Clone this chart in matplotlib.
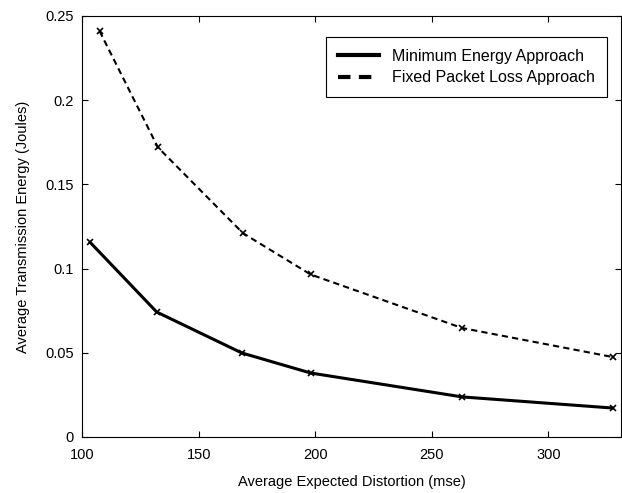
import matplotlib.pyplot as plt

plt.rcParams["font.family"] = ["Liberation Sans", "DejaVu Sans"]

# distortion (mse) vs energy (J)
min_energy_x = [103.5, 132, 168.5, 198, 263, 327.5]
min_energy_y = [0.1155, 0.0742, 0.0499, 0.0380, 0.0238, 0.0172]

fixed_loss_x = [107.5, 132.5, 169, 198, 263, 327.5]
fixed_loss_y = [0.241, 0.172, 0.121, 0.0965, 0.0647, 0.0475]

fig = plt.figure(figsize=(6.22, 4.93), dpi=100)
ax = fig.add_axes([0.132, 0.1136, 0.866, 0.854])

ax.plot(min_energy_x, min_energy_y, "k-", lw=2.2, marker="x", ms=4, mew=1.2,
        label="Minimum Energy Approach")
ax.plot(fixed_loss_x, fixed_loss_y, "k--", lw=1.5, marker="x", ms=4, mew=1.2,
        dashes=(3, 2), label="Fixed Packet Loss Approach")

ax.set_xlim(100, 331)
ax.set_ylim(0, 0.25)
ax.set_xticks([100, 150, 200, 250, 300])
ax.set_yticks([0, 0.05, 0.1, 0.15, 0.2, 0.25])
ax.set_yticklabels(["0", "0.05", "0.1", "0.15", "0.2", "0.25"])
ax.tick_params(direction="in", top=True, right=True, labelsize=10.5, length=4)
ax.tick_params(axis="x", pad=8)
ax.tick_params(axis="y", pad=6)

ax.set_xlabel("Average Expected Distortion (mse)", fontsize=10.5, labelpad=9)
ax.set_ylabel("Average Transmission Energy (Joules)", fontsize=10.5, labelpad=11)

leg = ax.legend(loc="upper right", bbox_to_anchor=(0.974, 0.95), borderaxespad=0,
                fontsize=11.5, fancybox=False, edgecolor="black", framealpha=1,
                handlelength=2.6, borderpad=0.75, labelspacing=0.4)
leg.get_frame().set_linewidth(0.8)
for h in leg.legend_handles:
    h.set_marker("")
    h.set_linewidth(3)

fig.savefig("out.png", dpi=100)
